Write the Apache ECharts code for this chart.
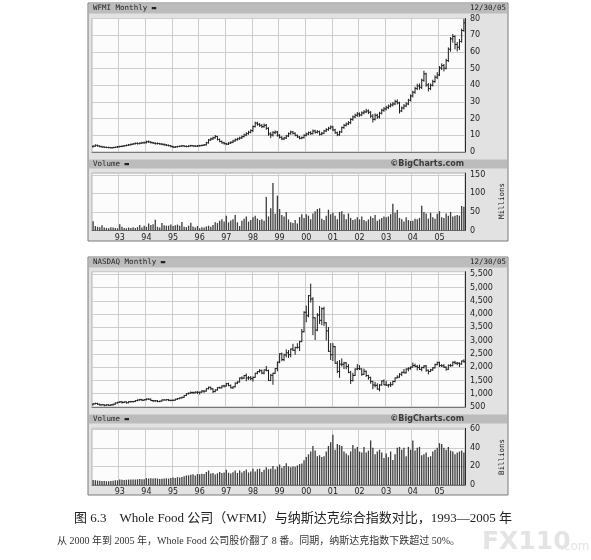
<!DOCTYPE html>
<html><head><meta charset="utf-8">
<script src="https://cdn.jsdelivr.net/npm/echarts@6/dist/echarts.min.js"></script>
<style>html,body{margin:0;padding:0;background:#fff}#c{width:591px;height:560px}</style>
</head><body><div id="c"></div>
<script>
const years = [1992,1993,1994,1995,1996,1997,1998,1999,2000,2001,2002,2003,2004,2005];

// WFMI monthly OHLC (USD) Jan 1992 .. Dec 2005
const wfmiOpen = [
3.2,3.5,4.0,3.6,3.2,3.0,2.8,2.7,2.6,2.5,2.7,2.9,
3.1,3.3,3.5,3.8,4.0,4.3,4.6,4.9,5.2,5.0,5.3,5.5,
5.6,6.2,6.0,5.6,5.3,5.0,5.1,4.8,4.6,4.3,4.0,3.8,
3.3,2.9,3.1,3.3,3.5,3.7,3.4,3.3,3.6,3.8,3.6,3.5,
3.7,3.8,4.0,4.3,5.5,7.2,7.9,8.5,9.3,7.5,6.3,5.5,
5.0,4.7,5.3,5.8,6.6,7.4,7.9,8.4,9.2,10.2,11.0,11.8,
12.8,15.2,17.3,16.6,16.0,15.2,16.0,14.2,10.8,10.2,11.6,12.0,
10.0,8.8,7.8,8.4,9.6,11.0,12.0,11.2,10.0,9.0,8.2,8.6,
10.0,10.8,11.6,11.0,12.6,11.8,12.2,10.6,11.2,12.6,13.4,14.2,
15.0,13.2,11.5,10.4,12.0,14.6,16.0,16.8,17.6,19.5,21.0,22.0,
22.8,22.2,23.4,24.0,24.6,23.8,21.5,19.6,22.0,21.0,23.2,25.0,
25.8,26.6,27.4,28.2,28.8,30.2,29.4,24.6,26.4,27.6,28.8,31.0,
33.6,35.8,38.0,39.6,38.8,43.0,46.8,40.2,38.0,40.0,42.2,44.8,
46.2,50.4,51.8,50.2,54.8,61.6,67.8,69.2,64.4,62.8,66.2,72.8];
const wfmiHigh = [
3.8,4.3,4.1,3.7,3.4,3.1,2.9,2.9,2.7,2.8,3.0,3.3,
3.5,3.7,3.9,4.2,4.5,4.8,5.1,5.4,5.4,5.5,5.8,5.9,
6.5,6.6,6.2,5.8,5.5,5.4,5.2,5.0,4.8,4.5,4.2,3.9,
3.4,3.2,3.4,3.6,3.9,3.8,3.6,3.8,4.0,3.9,3.7,3.9,
4.0,4.2,4.5,5.8,7.5,8.3,8.9,9.9,9.4,7.8,6.6,5.8,
5.2,5.6,6.1,7.0,7.8,8.3,8.9,9.6,10.7,11.6,12.4,13.3,
15.6,17.9,17.8,17.0,16.4,16.8,16.5,14.5,11.6,12.2,12.6,12.3,
10.4,9.2,8.8,10.0,11.4,12.5,12.3,11.5,10.2,9.3,9.0,10.4,
11.3,12.0,12.2,13.2,13.0,12.8,12.5,11.7,13.0,14.0,14.8,15.6,
15.4,13.6,11.9,12.4,15.0,16.5,17.4,18.2,20.0,21.6,22.6,23.6,
23.4,24.0,24.8,25.6,25.2,24.2,22.4,22.8,22.6,23.8,25.6,26.6,
27.4,28.2,29.0,29.6,31.0,31.2,29.8,27.0,28.4,29.6,31.6,34.2,
36.4,38.8,40.6,40.8,43.6,48.4,47.2,41.0,40.8,43.0,45.6,47.6,
51.2,52.8,52.4,55.6,62.4,68.6,70.4,69.6,65.6,67.4,73.6,79.6];
const wfmiLow = [
3.0,3.4,3.5,3.1,2.9,2.7,2.6,2.5,2.4,2.4,2.6,2.8,
3.0,3.2,3.4,3.7,3.9,4.2,4.5,4.8,4.8,4.9,5.2,5.3,
5.4,5.8,5.4,5.1,4.8,4.8,4.6,4.4,4.1,3.8,3.6,3.1,
2.7,2.7,3.0,3.2,3.4,3.3,3.1,3.2,3.5,3.5,3.3,3.4,
3.5,3.7,3.9,4.2,5.3,7.0,7.5,8.3,7.2,6.1,5.3,4.8,
4.4,4.5,5.1,5.6,6.4,7.1,7.6,8.1,9.0,9.8,10.7,11.5,
12.4,15.0,16.0,15.4,14.6,14.8,13.6,10.0,8.6,9.6,11.0,9.5,
8.4,7.4,7.5,8.1,9.3,10.7,10.8,9.7,8.7,7.9,8.0,8.4,
9.7,10.4,10.5,10.8,11.3,11.4,10.2,10.3,11.0,12.2,13.0,13.8,
12.8,11.2,9.8,10.0,11.8,14.2,15.6,16.4,17.0,19.0,20.6,21.4,
21.4,21.8,22.9,23.6,23.0,20.8,18.0,19.2,20.2,20.4,22.8,24.4,
25.2,26.0,27.0,27.6,28.4,28.8,23.4,24.2,25.8,27.2,28.4,30.6,
33.0,35.2,37.4,37.6,38.0,42.4,39.4,36.6,37.4,39.6,41.8,44.0,
45.8,49.4,48.6,49.8,54.2,60.4,65.8,61.8,60.6,61.4,65.8,72.4];
const wfmiClose = [
3.5,4.0,3.6,3.2,3.0,2.8,2.7,2.6,2.5,2.7,2.9,3.1,
3.3,3.5,3.8,4.0,4.3,4.6,4.9,5.2,5.0,5.3,5.5,5.6,
6.2,6.0,5.6,5.3,5.0,5.1,4.8,4.6,4.3,4.0,3.8,3.3,
2.9,3.1,3.3,3.5,3.7,3.4,3.3,3.6,3.8,3.6,3.5,3.7,
3.8,4.0,4.3,5.5,7.2,7.9,8.5,9.3,7.5,6.3,5.5,5.0,
4.7,5.3,5.8,6.6,7.4,7.9,8.4,9.2,10.2,11.0,11.8,12.8,
15.2,17.3,16.6,16.0,15.2,16.0,14.2,10.8,10.2,11.6,12.0,10.0,
8.8,7.8,8.4,9.6,11.0,12.0,11.2,10.0,9.0,8.2,8.6,10.0,
10.8,11.6,11.0,12.6,11.8,12.2,10.6,11.2,12.6,13.4,14.2,15.0,
13.2,11.5,10.4,12.0,14.6,16.0,16.8,17.6,19.5,21.0,22.0,22.8,
22.2,23.4,24.0,24.6,23.8,21.5,19.6,22.0,21.0,23.2,25.0,25.8,
26.6,27.4,28.2,28.8,30.2,29.4,24.6,26.4,27.6,28.8,31.0,33.6,
35.8,38.0,39.6,38.8,43.0,46.8,40.2,38.0,40.0,42.2,44.8,46.2,
50.4,51.8,50.2,54.8,61.6,67.8,69.2,64.4,62.8,66.2,72.8,77.4];
// WFMI monthly volume (millions)
const wfmiVolume = [
25,12,10,9,14,8,7,6,9,8,7,6,
17,10,7,6,8,7,9,7,9,15,8,13,
10,19,15,17,29,10,8,20,14,13,13,16,
12,14,16,13,23,10,9,13,21,11,8,12,
6,9,8,11,13,10,15,22,20,26,30,24,
40,22,27,30,42,22,12,26,32,38,24,28,
36,40,32,28,30,26,90,38,60,128,45,94,
58,42,38,50,30,22,20,28,19,36,44,34,
44,40,30,46,52,58,60,32,28,40,56,44,
48,40,30,50,52,44,30,46,34,28,30,36,
30,38,28,25,30,38,34,42,26,30,34,38,
36,38,44,72,48,55,34,30,24,36,28,26,
26,32,30,34,67,50,46,32,48,36,32,45,
52,36,34,46,40,50,38,40,42,40,66,64];

// NASDAQ Composite monthly OHLC
const nasdaqOpen = [
586,620,633,603,579,585,563,581,563,583,605,652,
677,696,671,690,661,700,704,705,742,763,779,754,
777,800,793,743,733,735,706,722,765,764,777,750,
752,755,793,817,843,865,933,1001,1020,1044,1036,1059,
1052,1060,1100,1101,1191,1243,1185,1081,1141,1227,1222,1293,
1291,1380,1309,1222,1261,1400,1442,1594,1587,1686,1594,1601,
1570,1619,1771,1835,1869,1779,1895,1873,1499,1694,1771,1950,
2193,2506,2288,2461,2543,2471,2686,2638,2739,2746,2966,3336,
4069,3940,4697,4573,3861,3401,3966,3767,4206,3673,3370,2598,
2471,2773,2152,1840,2116,2110,2161,2027,1805,1499,1690,1931,
1950,1934,1731,1845,1688,1616,1463,1328,1315,1172,1330,1479,
1336,1321,1338,1341,1464,1596,1623,1735,1810,1787,1932,1960,
2003,2066,2030,1994,1920,1987,2048,1887,1838,1897,1975,2097,
2175,2062,2052,1999,1922,2068,2057,2185,2152,2152,2120,2233];
const nasdaqHigh = [
630,645,640,610,592,587,585,585,590,607,653,677,
700,706,695,693,702,709,710,743,763,787,785,780,
802,804,803,748,742,743,723,766,775,780,785,758,
767,795,819,844,870,933,1005,1030,1068,1063,1070,1078,
1064,1120,1111,1191,1249,1250,1187,1150,1230,1250,1295,1316,
1390,1396,1330,1265,1406,1452,1594,1633,1693,1745,1645,1650,
1626,1772,1836,1911,1889,1895,2028,1889,1730,1774,1950,2193,
2509,2533,2492,2653,2627,2686,2864,2757,2887,2975,3423,4090,
4303,4697,5132,4620,3862,4018,4289,4234,4260,3675,3495,2890,
2892,2782,2219,2250,2313,2184,2171,2098,1842,1771,1942,2098,
2059,1940,1929,1856,1693,1623,1468,1426,1375,1342,1479,1521,
1467,1348,1426,1474,1596,1676,1754,1810,1914,1941,1978,2010,
2154,2113,2067,2080,2000,2057,2063,1888,1920,1982,2115,2192,
2191,2096,2095,2011,2085,2106,2198,2219,2177,2164,2233,2278];
const nasdaqLow = [
580,615,598,565,575,547,555,560,560,570,603,648,
670,645,667,645,658,686,687,703,735,755,740,750,
770,785,740,705,712,700,700,720,760,758,740,735,
743,755,789,810,840,862,930,990,1015,1012,1032,1010,
988,1055,1052,1097,1180,1165,1043,1075,1135,1212,1218,1255,
1287,1300,1220,1201,1258,1380,1440,1555,1580,1492,1540,1530,
1480,1617,1752,1811,1755,1750,1863,1499,1492,1357,1768,1865,
2170,2243,2245,2390,2368,2391,2630,2490,2720,2627,2962,3330,
3712,3900,4456,3227,3042,3375,3650,3605,3568,3026,2596,2288,
2251,2143,1794,1619,2046,1946,1941,1790,1387,1480,1688,1904,
1914,1696,1730,1653,1548,1397,1192,1256,1172,1108,1319,1335,
1313,1253,1272,1337,1450,1595,1623,1680,1784,1786,1865,1925,
2003,2020,1897,1918,1865,1970,1849,1750,1836,1882,1975,2090,
2030,2028,1989,1889,1916,2033,2056,2128,2095,2025,2114,2192];
const nasdaqClose = [
620,633,603,579,585,563,581,563,583,605,652,677,
696,671,690,661,700,704,705,742,763,779,754,777,
800,793,743,733,735,706,722,765,764,777,750,752,
755,793,817,843,865,933,1001,1020,1044,1036,1059,1052,
1060,1100,1101,1191,1243,1185,1081,1141,1227,1222,1293,1291,
1380,1309,1222,1261,1400,1442,1594,1587,1686,1594,1601,1570,
1619,1771,1835,1869,1779,1895,1873,1499,1694,1771,1950,2193,
2506,2288,2461,2543,2471,2686,2638,2739,2746,2966,3336,4069,
3940,4697,4573,3861,3401,3966,3767,4206,3673,3370,2598,2471,
2773,2152,1840,2116,2110,2161,2027,1805,1499,1690,1931,1950,
1934,1731,1845,1688,1616,1463,1328,1315,1172,1330,1479,1336,
1321,1338,1341,1464,1596,1623,1735,1810,1787,1932,1960,2003,
2066,2030,1994,1920,1987,2048,1887,1838,1897,1975,2097,2175,
2062,2052,1999,1922,2068,2057,2185,2152,2152,2120,2233,2205];
// NASDAQ monthly volume (billions)
const nasdaqVolume = [
5.5,5.2,4.8,4.6,4.3,4.2,4.0,4.1,4.3,4.6,5.0,5.0,
5.8,5.6,5.5,5.7,5.8,5.9,5.8,6.0,6.2,6.5,6.2,6.3,
7.5,7.0,7.3,7.1,7.2,7.0,6.5,6.8,7.0,7.2,6.9,7.4,
8.2,7.5,8.4,8.0,8.7,9.5,10.3,10.4,10.9,11.5,10.2,11.8,
11.5,12.0,11.8,14.0,15.6,12.5,13.0,11.2,12.6,14.0,12.8,13.5,
16.5,13.2,12.5,13.6,15.5,13.0,15.8,13.4,15.0,16.8,13.5,14.6,
17.5,14.5,17.0,17.5,14.0,16.5,19.0,17.0,17.6,20.5,17.0,19.8,
22.0,18.5,20.5,23.5,20.0,19.0,20.0,19.5,21.0,22.5,23.0,26.5,
30,33,36,42,37,31,32,30,31,36,42,46,
54,38,44,43,42,36,34,32,36,43,39,41,
36,35,41,35,37,48,40,33,36,38,35,29,
34,30,36,27,33,40,41,38,40,31,41,38,
48,37,40,41,32,33,35,30,31,36,38,40,
45,44,40,38,41,37,36,33,35,36,37,35];

const months = [];
years.forEach(y => { for (let m = 1; m <= 12; m++) months.push(y + '-' + (m < 10 ? '0' + m : m)); });

const ohlc = (o, h, l, c) => months.map((m, i) => [i, o[i], h[i], l[i], c[i]]);

function renderOHLC(params, api) {
  const i = api.value(0);
  const o = api.value(1), h = api.value(2), l = api.value(3), c = api.value(4);
  const pH = api.coord([i, h]), pL = api.coord([i, l]);
  const pO = api.coord([i, o]), pC = api.coord([i, c]);
  const x = pH[0];
  const st = { stroke: '#1c1c1c', lineWidth: 1 };
  return { type: 'group', children: [
    { type: 'line', shape: { x1: x, y1: pH[1] - 0.5, x2: x, y2: pL[1] + 0.5 }, style: st },
    { type: 'line', shape: { x1: x - 1.2, y1: pO[1], x2: x, y2: pO[1] }, style: st },
    { type: 'line', shape: { x1: x, y1: pC[1], x2: x + 1.2, y2: pC[1] }, style: st }
  ]};
}

const isJan = (i) => i % 12 === 0 && i >= 12;
const gridDefs = [
  { left: 92, top: 18.5, width: 373, height: 133.5 },
  { left: 92, top: 173, width: 373, height: 57.5 },
  { left: 92, top: 271.7, width: 373, height: 135.3 },
  { left: 92, top: 428.3, width: 373, height: 56.7 }
];
const lblFont = { fontFamily: 'DejaVu Sans', fontSize: 8, color: '#222' };

const xAxes = gridDefs.map((g, k) => ({
  type: 'category', gridIndex: k, data: months, boundaryGap: true,
  axisLine: { show: true, lineStyle: { color: '#777', width: 1 } },
  axisTick: { show: false },
  axisLabel: Object.assign({ show: k === 1 || k === 3, interval: isJan, margin: 3,
    formatter: v => v.slice(2, 4) }, lblFont),
  splitLine: { show: true, interval: isJan, lineStyle: { color: '#cdcdcd', width: 1 } }
}));

function yAx(k, min, max, interval, fmt, hideMax) {
  return {
    type: 'value', gridIndex: k, position: 'right', min: min, max: max, interval: interval,
    axisLine: { show: true, lineStyle: { color: '#2a2a2a', width: 1 } },
    axisTick: { show: false },
    axisLabel: Object.assign({ margin: 5, showMaxLabel: !hideMax, formatter: fmt }, lblFont),
    splitLine: { show: true, lineStyle: { color: '#cdcdcd', width: 1 } }
  };
}
const plain = v => String(v);
const comma = v => v.toLocaleString('en-US');

const frameFill = '#e2e2e2', headFill = '#bcbcbc';
const mono = 'DejaVu Sans Mono';
function panelFrame(y0, h, title, head2y) {
  return [
    { type: 'rect', z: -10, shape: { x: 88, y: y0, width: 420, height: h }, style: { fill: frameFill, stroke: '#7a7a7a', lineWidth: 1 } },
    { type: 'rect', z: -9, shape: { x: 89, y: y0 + 0.5, width: 418, height: 10 }, style: { fill: headFill } },
    { type: 'rect', z: -9, shape: { x: 89, y: head2y, width: 418, height: 9 }, style: { fill: headFill } },
    { type: 'text', z: 5, style: { x: 93, y: y0 + 5.5, text: title, font: '7.5px "' + mono + '"', fill: '#222', verticalAlign: 'middle' } },
    { type: 'text', z: 5, style: { x: 506, y: y0 + 5.5, text: '12/30/05', font: '7.5px "' + mono + '"', fill: '#222', align: 'right', verticalAlign: 'middle' } },
    { type: 'text', z: 5, style: { x: 93, y: head2y + 4.5, text: 'Volume \u25AC', font: '7.5px "' + mono + '"', fill: '#222', verticalAlign: 'middle' } },
    { type: 'text', z: 5, style: { x: 464, y: head2y + 4.5, text: '\u00A9BigCharts.com', font: 'bold 8px "DejaVu Sans"', fill: '#3a3a3a', align: 'right', verticalAlign: 'middle' } }
  ];
}

const graphics = [].concat(
  panelFrame(3, 238, 'WFMI Monthly \u25AC', 159.5),
  panelFrame(257, 238, 'NASDAQ Monthly \u25AC', 414.5),
  [
    { type: 'text', z: 5, x: 502, y: 201, rotation: Math.PI / 2, style: { x: 0, y: 0, text: 'Millions', font: '7.5px "' + mono + '"', fill: '#222', align: 'center', verticalAlign: 'middle' } },
    { type: 'text', z: 5, x: 502, y: 457, rotation: Math.PI / 2, style: { x: 0, y: 0, text: 'Billions', font: '7.5px "' + mono + '"', fill: '#222', align: 'center', verticalAlign: 'middle' } },
    { type: 'text', z: 5, style: { x: 293, y: 519, text: '图 6.3    Whole Food 公司（WFMI）与纳斯达克综合指数对比，1993—2005 年', font: '13px "Liberation Serif", "Noto Sans CJK SC"', fill: '#222', align: 'center', verticalAlign: 'middle' } },
    { type: 'text', z: 5, style: { x: 57, y: 541, text: '从 2000 年到 2005 年，Whole Food 公司股价翻了 8 番。同期，纳斯达克指数下跌超过 50%。', font: '10px "Liberation Serif", "Noto Sans CJK SC"', fill: '#333', align: 'left', verticalAlign: 'middle' } },
    { type: 'text', z: 5, style: { x: 482, y: 542, text: 'FX110', font: 'bold 25px "DejaVu Sans"', fill: '#e4e4e4', align: 'left', verticalAlign: 'middle' } },
    { type: 'text', z: 5, style: { x: 560, y: 547, text: '.com', font: '12px "DejaVu Sans"', fill: '#e4e4e4', align: 'left', verticalAlign: 'middle' } }
  ]
);

const chart = echarts.init(document.getElementById('c'), null, { renderer: 'canvas' });
chart.setOption({
  animation: false,
  backgroundColor: '#ffffff',
  grid: gridDefs.map(g => Object.assign({ show: true, backgroundColor: '#fcfcfc', borderColor: '#b4b4b4', borderWidth: 1, containLabel: false }, g)),
  xAxis: xAxes,
  yAxis: [
    yAx(0, 0, 80, 10, plain, false),
    yAx(1, 0, 155, 50, plain, true),
    yAx(2, 500, 5600, 500, comma, true),
    yAx(3, 0, 61, 20, plain, true)
  ],
  graphic: { elements: graphics },
  series: [
    { type: 'custom', xAxisIndex: 0, yAxisIndex: 0, renderItem: renderOHLC, data: ohlc(wfmiOpen, wfmiHigh, wfmiLow, wfmiClose), encode: { x: 0, y: [1, 2, 3, 4] }, clip: true },
    { type: 'bar', xAxisIndex: 1, yAxisIndex: 1, data: wfmiVolume, barWidth: 1.3, itemStyle: { color: '#3c3c3c' } },
    { type: 'custom', xAxisIndex: 2, yAxisIndex: 2, renderItem: renderOHLC, data: ohlc(nasdaqOpen, nasdaqHigh, nasdaqLow, nasdaqClose), encode: { x: 0, y: [1, 2, 3, 4] }, clip: true },
    { type: 'bar', xAxisIndex: 3, yAxisIndex: 3, data: nasdaqVolume, barWidth: 1.3, itemStyle: { color: '#3c3c3c' } }
  ]
});
</script>
</body></html>
